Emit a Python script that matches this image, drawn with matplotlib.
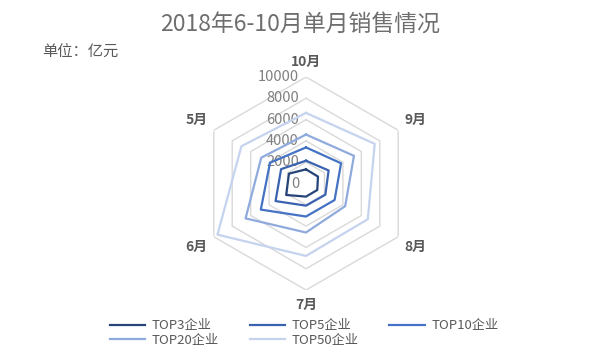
import numpy as np
import matplotlib
matplotlib.use("Agg")
import matplotlib.pyplot as plt
from matplotlib.transforms import offset_copy

plt.rcParams['font.family'] = ['Noto Sans CJK SC', 'DejaVu Sans']

# data (亿元)
months = ['10月', '9月', '8月', '7月', '6月', '5月']
series_names = ['TOP3企业', 'TOP5企业', 'TOP10企业', 'TOP20企业', 'TOP50企业']
top3 = [1330, 1300, 1220, 1230, 2150, 1850]
top5 = [2140, 2450, 2100, 2080, 3300, 2700]
top10 = [3390, 3800, 3100, 3100, 4900, 3900]
top20 = [4600, 5200, 4250, 4600, 6550, 4850]
top50 = [6630, 7450, 6700, 6800, 9600, 7000]
r_ticks = [0, 2000, 4000, 6000, 8000, 10000]

colors = ['#264478', '#3A62B0', '#4472C4', '#8FAADC', '#C5D3EE']
gray = '#595959'

fig = plt.figure(figsize=(6, 3.6), dpi=100)
ax = fig.add_axes([0.3325, 0.1944, 0.355, 0.5917], projection='polar')
ax.set_theta_zero_location('N')
ax.set_theta_direction(-1)
ax.set_ylim(0, 10000)
ax.grid(False)
ax.spines['polar'].set_visible(False)
ax.set_xticks([])
ax.set_yticks([])

angles = np.linspace(0, 2 * np.pi, len(months), endpoint=False)
closed = np.append(angles, angles[0])

# hexagonal gridlines
for v in r_ticks[1:]:
    ax.plot(closed, [v] * len(closed), color='#D9D9D9', lw=1.0, zorder=1)

lines = []
for name, vals, c in zip(series_names, [top3, top5, top10, top20, top50], colors):
    ln, = ax.plot(closed, vals + vals[:1], color=c, lw=1.6, label=name, zorder=3)
    lines.append(ln)

# radial value labels
tr = offset_copy(ax.transData, fig=fig, x=-7, y=0, units='dots')
for v in r_ticks:
    ax.text(0, v, str(v), transform=tr, ha='right', va='center',
            fontsize=10.5, color='#808080', zorder=2)

# category labels
for a, m in zip(angles, months):
    r = 11400 if m in ('10月', '7月') else 11900
    ax.text(a, r, m, ha='center', va='center', fontsize=10,
            fontweight='bold', color=gray, clip_on=False)

fig.text(0.5, 0.93, '2018年6-10月单月销售情况', ha='center', va='center',
         fontsize=16.5, color='#6E6E6E')
fig.text(0.07, 0.855, '单位：亿元', ha='left', va='center',
         fontsize=11, color=gray)

# row-major order: TOP3 TOP5 TOP10 / TOP20 TOP50
order = [0, 3, 1, 4, 2]
fig.legend([lines[i] for i in order], [series_names[i] for i in order],
           loc='center', bbox_to_anchor=(0.507, 0.075), ncol=3,
           frameon=False, fontsize=9.5, handlelength=2.7,
           columnspacing=2.3, labelspacing=0.1, handletextpad=0.5,
           labelcolor=gray)

fig.savefig('out.png', dpi=100)
